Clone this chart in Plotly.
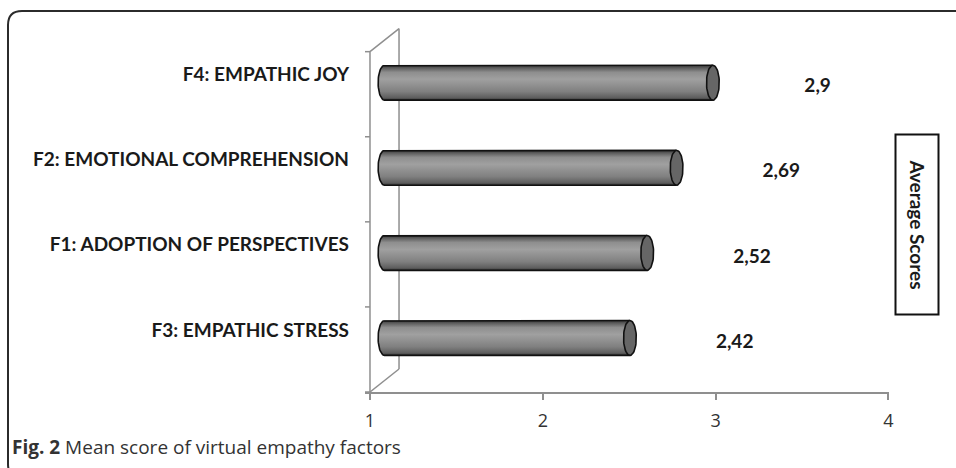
import numpy as np
import plotly.graph_objects as go

# ---- data ----
categories = ["F3: EMPATHIC STRESS", "F1: ADOPTION OF PERSPECTIVES",
              "F2: EMOTIONAL COMPREHENSION", "F4: EMPATHIC JOY"]
values = [2.42, 2.52, 2.69, 2.9]
value_labels = ["2,42", "2,52", "2,69", "2,9"]
x_ticks = [1, 2, 3, 4]
axis_title = "Average Scores"
caption = "<b>Fig. 2</b> Mean score of virtual empathy factors"

# ---- style constants ----
W, H = 956, 468
ML, MR, MT, MB = 365, 67, 27, 76
XR = [0.9711, 4.003]
YR = [-0.5, 3.79]
DX, DY = 0.168, 0.27          # 3D depth offset (axis units)
HALF = 0.205                   # half bar thickness
CAP_A = 0.037                  # cap ellipse semi-axis (x units)
AXC = "#8f8f8f"
FONT_B = dict(family="Lato", size=19, color="#1a1a1a", weight="bold")

def px2paper(px, py):
    return (px - ML) / (W - ML - MR), (H - MB - py) / (H - MT - MB)

fig = go.Figure()

# ---- 3D axis walls ----
wall_x = [1, 1, None, 1, 1 + DX, 1 + DX, None, 1, 1 + DX]
wall_y = [-0.5, 3.5, None, 3.5, 3.5 + DY, -0.5 + DY, None, -0.5, -0.5 + DY]
for b in np.arange(-0.5, 3.51, 1.0):
    wall_x += [None, XR[0], 1]
    wall_y += [None, b, b]
fig.add_trace(go.Scatter(x=wall_x, y=wall_y, mode="lines",
                         line=dict(color=AXC, width=1.5), hoverinfo="skip",
                         showlegend=False))

# ---- cylinders ----
t = np.linspace(0, np.pi, 30)
grad = [[0.0, "#333333"], [0.07, "#5e5e5e"], [0.25, "#808080"],
        [0.6, "#a0a0a0"], [0.8, "#8e8e8e"], [0.93, "#5a5a5a"], [1.0, "#333333"]]
for i, v in enumerate(values):
    yc = i + DY / 2
    xl = 1 + DX / 2
    xr = v + DX / 2
    lx = xl - CAP_A * np.sin(t)
    ly = yc + HALF * np.cos(t)
    bx = list(lx) + [xr, xr, lx[0]]
    by = list(ly) + [yc - HALF, yc + HALF, ly[0]]
    fig.add_trace(go.Scatter(x=bx, y=by, mode="lines", fill="toself",
                             fillgradient=dict(type="vertical", colorscale=grad),
                             line=dict(color="rgba(0,0,0,0)", width=0),
                             hoverinfo="skip", showlegend=False))
    ox = [xr] + list(lx) + [xr]
    oy = [yc + HALF] + list(ly) + [yc - HALF]
    fig.add_trace(go.Scatter(x=ox, y=oy, mode="lines",
                             line=dict(color="#111111", width=1.6),
                             hoverinfo="skip", showlegend=False))
    tt = np.linspace(0, 2 * np.pi, 60)
    fig.add_trace(go.Scatter(x=xr + CAP_A * np.sin(tt), y=yc + HALF * np.cos(tt),
                             mode="lines", fill="toself", fillcolor="#666666",
                             line=dict(color="#111111", width=1.6),
                             hoverinfo="skip", showlegend=False))

# ---- value labels ----
fig.add_trace(go.Scatter(x=[v + 0.69 for v in values],
                         y=[i + 0.077 for i in range(len(values))],
                         mode="text", text=value_labels, textfont=FONT_B,
                         textposition="middle center", cliponaxis=False,
                         hoverinfo="skip", showlegend=False))

# ---- frame ----
x0, yt = px2paper(8, 11)
_, yb = px2paper(8, 478)
xr_p, _ = px2paper(970, 11)
xc, yc_ = px2paper(8 + 14, 11 + 14)
_, ybc = px2paper(8, 478 - 14)
path = (f"M {xc},{yb} Q {x0},{yb} {x0},{ybc} L {x0},{yc_} Q {x0},{yt} {xc},{yt} L {xr_p},{yt}")
fig.add_shape(type="path", path=path, xref="paper", yref="paper",
              line=dict(color="#2b2b2b", width=2))

# ---- caption ----
cx, cy = px2paper(10, 447)
fig.add_annotation(x=cx, y=cy, xref="paper", yref="paper", text=caption,
                   showarrow=False, xanchor="left", yanchor="middle",
                   font=dict(family="Open Sans", size=19, color="#333333"))

# ---- axis title box ----
ax_, ay_ = px2paper(917.5, 224)
fig.add_annotation(x=ax_, y=ay_, xref="paper", yref="paper", text=axis_title,
                   showarrow=False, textangle=90, width=178, height=41,
                   xanchor="center", yanchor="middle",
                   bordercolor="#111111", borderwidth=2, borderpad=0,
                   font=FONT_B, bgcolor="white")

fig.update_layout(
    width=W, height=H, autosize=False,
    margin=dict(l=ML, r=MR, t=MT, b=MB),
    paper_bgcolor="white", plot_bgcolor="white",
    xaxis=dict(range=XR, tickvals=x_ticks, ticktext=[str(v) for v in x_ticks],
               showgrid=False, zeroline=False, showline=True, linecolor=AXC,
               linewidth=1.5, ticks="outside", ticklen=6, tickcolor=AXC,
               tickwidth=1.5, ticklabelstandoff=6,
               tickfont=dict(family="Open Sans", size=18, color="#333333")),
    yaxis=dict(range=YR, tickvals=[i + 0.23 for i in range(len(categories))],
               ticktext=categories, showgrid=False, zeroline=False,
               showline=False, ticks="", ticklabelstandoff=15,
               tickfont=FONT_B),
)

fig.write_html("out.html", config={"displayModeBar": False},
               post_script="document.body.style.margin='0';document.body.style.overflow='hidden';")
